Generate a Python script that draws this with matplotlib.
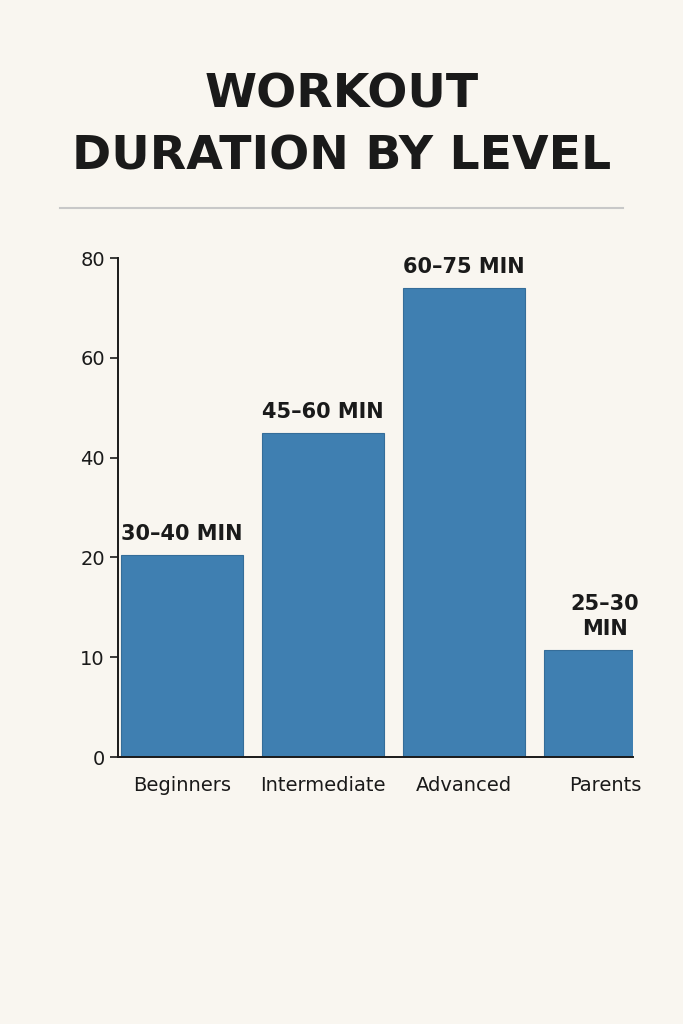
import numpy as np
import matplotlib.pyplot as plt
from matplotlib.lines import Line2D

levels = ["Beginners", "Intermediate", "Advanced", "Parents"]
minutes = [20.5, 45, 74, 10.7]
bar_labels = ["30–40 MIN", "45–60 MIN", "60–75 MIN", "25–30\nMIN"]
tick_values = [0, 10, 20, 40, 60, 80]

# the axis spaces its ticks evenly even though the steps differ
tick_pos = np.arange(len(tick_values))


def forward(v):
    return np.interp(v, tick_values, tick_pos, left=None, right=None)


def inverse(p):
    return np.interp(p, tick_pos, tick_values)


bg = "#f9f6f0"
fig = plt.figure(figsize=(6.83, 10.24), dpi=100, facecolor=bg)
ax = fig.add_axes([0.1728, 0.2607, 0.7542, 0.4873], facecolor=bg)
ax.set_yscale("function", functions=(forward, inverse))

x = np.arange(len(levels))
ax.bar(x, minutes, width=0.86, color="#3f7fb1", edgecolor="#356d99", linewidth=0.8)
for xi, v, lab in zip(x, minutes, bar_labels):
    ax.annotate(lab, (xi, v), xytext=(0, 8), textcoords="offset points",
                ha="center", va="bottom", fontsize=15, fontweight="bold",
                color="#1a1a1a", family="DejaVu Sans", linespacing=1.3)

ax.set_xlim(-0.454, 3.199)
ax.set_ylim(0, 84.6)
ax.set_yticks(tick_values)
ax.set_yticklabels([str(t) for t in tick_values])
ax.set_xticks(x)
ax.set_xticklabels(levels)
ax.tick_params(axis="y", labelsize=14, length=6, width=1.2, colors="#1a1a1a")
ax.tick_params(axis="x", labelsize=14, length=0, pad=14, colors="#1a1a1a")
for s in ["top", "right"]:
    ax.spines[s].set_visible(False)
for s in ["left", "bottom"]:
    ax.spines[s].set_linewidth(1.4)
    ax.spines[s].set_color("#1a1a1a")

fig.text(0.5, 0.907, "WORKOUT", ha="center", va="center", fontsize=34,
         fontweight="bold", color="#1a1a1a")
fig.text(0.5, 0.847, "DURATION BY LEVEL", ha="center", va="center", fontsize=34,
         fontweight="bold", color="#1a1a1a")
fig.add_artist(Line2D([0.088, 0.912], [0.797, 0.797], color="#c8c8c8", linewidth=1.5))

fig.savefig("out.png", dpi=100, facecolor=bg)
